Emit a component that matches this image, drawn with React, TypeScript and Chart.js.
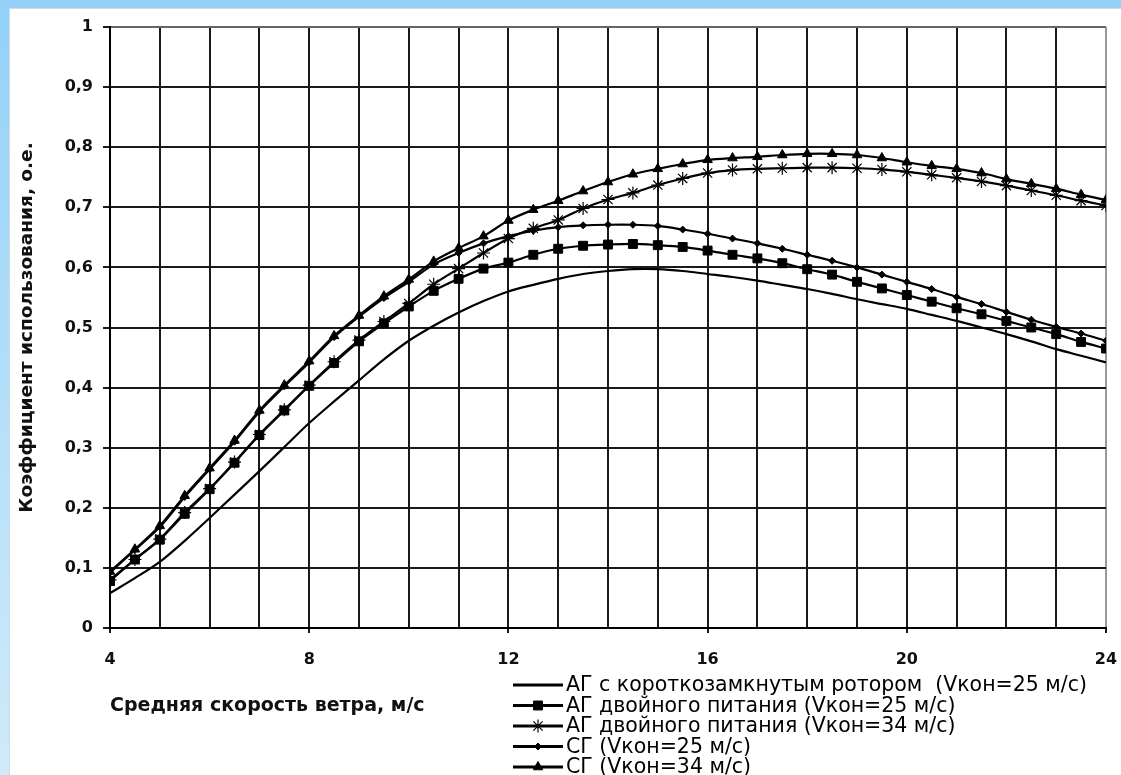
import { useEffect, useRef } from 'react';
import { Chart, registerables } from 'chart.js';
import { drawPoint } from 'chart.js/helpers';

Chart.register(...registerables);

// Wind speed, m/s
const WIND = [4, 4.5, 5, 5.5, 6, 6.5, 7, 7.5, 8, 8.5, 9, 9.5, 10, 10.5, 11, 11.5, 12, 12.5, 13, 13.5, 14, 14.5, 15, 15.5, 16, 16.5, 17, 17.5, 18, 18.5, 19, 19.5, 20, 20.5, 21, 21.5, 22, 22.5, 23, 23.5, 24];

const AG_SC_25 = [0.058, 0.083, 0.110, 0.145, 0.183, 0.222, 0.261, 0.301, 0.341, 0.377, 0.412, 0.447, 0.478, 0.503, 0.525, 0.544, 0.560, 0.571, 0.581, 0.589, 0.594, 0.597, 0.597, 0.594, 0.589, 0.584, 0.578, 0.571, 0.564, 0.556, 0.547, 0.539, 0.531, 0.521, 0.511, 0.500, 0.489, 0.477, 0.464, 0.453, 0.442];
const AG_DF_25 = [0.078, 0.114, 0.147, 0.190, 0.231, 0.275, 0.321, 0.362, 0.403, 0.441, 0.477, 0.507, 0.535, 0.561, 0.581, 0.598, 0.608, 0.621, 0.631, 0.636, 0.638, 0.639, 0.637, 0.634, 0.628, 0.621, 0.615, 0.607, 0.597, 0.588, 0.576, 0.565, 0.554, 0.543, 0.532, 0.522, 0.511, 0.500, 0.489, 0.476, 0.465];
const AG_DF_34 = [0.080, 0.114, 0.148, 0.192, 0.232, 0.276, 0.322, 0.363, 0.404, 0.443, 0.479, 0.510, 0.540, 0.572, 0.598, 0.624, 0.648, 0.665, 0.679, 0.698, 0.713, 0.724, 0.737, 0.748, 0.757, 0.762, 0.764, 0.765, 0.766, 0.766, 0.765, 0.763, 0.759, 0.754, 0.749, 0.743, 0.736, 0.728, 0.720, 0.711, 0.703];
const SG_25 = [0.092, 0.130, 0.168, 0.218, 0.264, 0.310, 0.360, 0.402, 0.442, 0.484, 0.518, 0.549, 0.576, 0.605, 0.624, 0.640, 0.652, 0.661, 0.667, 0.670, 0.671, 0.671, 0.669, 0.663, 0.656, 0.648, 0.640, 0.631, 0.621, 0.611, 0.600, 0.588, 0.576, 0.564, 0.551, 0.539, 0.526, 0.513, 0.501, 0.490, 0.478];
const SG_34 = [0.094, 0.131, 0.170, 0.220, 0.266, 0.312, 0.362, 0.404, 0.444, 0.486, 0.520, 0.552, 0.580, 0.610, 0.632, 0.652, 0.678, 0.696, 0.711, 0.727, 0.742, 0.755, 0.764, 0.772, 0.779, 0.782, 0.784, 0.787, 0.789, 0.789, 0.787, 0.782, 0.775, 0.769, 0.764, 0.757, 0.747, 0.739, 0.731, 0.721, 0.712];

const SERIES_LABELS = [
  'АГ с короткозамкнутым ротором  (Vкон=25 м/с)',
  'АГ двойного питания (Vкон=25 м/с)',
  'АГ двойного питания (Vкон=34 м/с)',
  'СГ (Vкон=25 м/с)',
  'СГ (Vкон=34 м/с)',
];

const X_TICK_LABELS = [4, 8, 12, 16, 20, 24];
const X_TITLE = 'Средняя скорость ветра, м/с';
const Y_TITLE = 'Коэффициент использования, о.е.';

const toPts = (ys: number[]) => WIND.map((x, i) => ({ x, y: ys[i] }));

const legendPlugin = {
  id: 'customLegend',
  afterDraw(chart: any) {
    const ctx = chart.ctx as CanvasRenderingContext2D;
    const startY = 685;
    const step = 20.5;
    ctx.save();
    chart.data.datasets.forEach((ds: any, i: number) => {
      const y = startY + i * step;
      ctx.strokeStyle = '#000';
      ctx.fillStyle = '#000';
      ctx.lineWidth = 3;
      ctx.beginPath();
      ctx.moveTo(513, y);
      ctx.lineTo(563, y);
      ctx.stroke();
      if (ds.pointRadius > 0) {
        ctx.lineWidth = ds.pointBorderWidth || 1;
        drawPoint(ctx, { pointStyle: ds.pointStyle, radius: ds.pointRadius, borderWidth: ds.pointBorderWidth || 1, rotation: 0 } as any, 538, y);
      }
      ctx.fillStyle = '#000';
      ctx.font = '20.5px "DejaVu Sans"';
      ctx.textBaseline = 'middle';
      ctx.textAlign = 'left';
      ctx.fillText(ds.label, 566, y + 1);
    });
    ctx.restore();
  },
};

export default function App() {
  const ref = useRef<HTMLCanvasElement | null>(null);

  useEffect(() => {
    if (!ref.current) return;
    const common = {
      borderColor: '#000',
      backgroundColor: '#000',
      pointBorderColor: '#000',
      pointBackgroundColor: '#000',
      borderWidth: 2.2,
      tension: 0.3,
      fill: false,
    };
    const chart = new Chart(ref.current, {
      type: 'line',
      data: {
        datasets: [
          { ...common, label: SERIES_LABELS[0], data: toPts(AG_SC_25), pointRadius: 0, pointStyle: 'circle' },
          { ...common, label: SERIES_LABELS[1], data: toPts(AG_DF_25), pointRadius: 6.3, pointStyle: 'rect', pointBorderWidth: 1 },
          { ...common, label: SERIES_LABELS[2], data: toPts(AG_DF_34), pointRadius: 6.5, pointStyle: 'star', pointBorderWidth: 1.2 },
          { ...common, label: SERIES_LABELS[3], data: toPts(SG_25), pointRadius: 3.5, pointStyle: 'rectRot', pointBorderWidth: 1 },
          { ...common, label: SERIES_LABELS[4], data: toPts(SG_34), pointRadius: 5.5, pointStyle: 'triangle', pointBorderWidth: 1 },
        ] as any,
      },
      options: {
        animation: false,
        responsive: false,
        maintainAspectRatio: false,
        layout: { padding: { left: 10, top: 27, right: 15, bottom: 54 } },
        plugins: { legend: { display: false }, tooltip: { enabled: false } },
        scales: {
          x: {
            type: 'linear',
            min: 4,
            max: 24,
            afterFit(scale: any) {
              scale.height = 93;
              scale.paddingLeft = 0;
              scale.paddingRight = 0;
              scale.paddingTop = 0;
              scale.paddingBottom = 0;
            },
            ticks: {
              stepSize: 1,
              autoSkip: false,
              maxRotation: 0,
              padding: 17,
              color: '#111',
              font: { family: '"DejaVu Sans"', size: 16, weight: 'bold' },
              callback: (v: any) => (X_TICK_LABELS.includes(Number(v)) ? String(v) : ''),
            },
            grid: {
              color: (c: any) => (c.tick && c.tick.value === 24 ? '#9a9a9a' : '#1a1a1a'),
              lineWidth: 2,
              tickLength: 5,
              tickColor: (c: any) => (c.tick && X_TICK_LABELS.includes(c.tick.value) ? '#1a1a1a' : 'rgba(0,0,0,0)'),
            },
            border: { display: true, color: '#000', width: 2 },
            title: {
              display: true,
              text: X_TITLE,
              align: 'start',
              color: '#111',
              padding: { top: 0, bottom: 4 },
              font: { family: '"DejaVu Sans"', size: 19, weight: 'bold' },
            },
          },
          y: {
            type: 'linear',
            min: 0,
            max: 1,
            afterFit(scale: any) {
              scale.width = 100;
              scale.paddingLeft = 0;
              scale.paddingRight = 0;
              scale.paddingTop = 0;
              scale.paddingBottom = 0;
            },
            ticks: {
              stepSize: 0.1,
              padding: 10,
              color: '#111',
              font: { family: '"DejaVu Sans"', size: 16, weight: 'bold' },
              callback: (v: any) => String(Math.round(Number(v) * 10) / 10).replace('.', ','),
            },
            grid: {
              color: (c: any) => (c.tick && Math.abs(c.tick.value - 1) < 1e-6 ? '#666' : '#1a1a1a'),
              lineWidth: 2,
              tickLength: 7,
              tickColor: '#1a1a1a',
            },
            border: { display: true, color: '#000', width: 2 },
            title: {
              display: true,
              text: Y_TITLE,
              color: '#111',
              padding: { top: 6, bottom: 0 },
              font: { family: '"DejaVu Sans"', size: 18.5, weight: 'bold' },
            },
          },
        },
      } as any,
      plugins: [legendPlugin],
    });
    return () => chart.destroy();
  }, []);

  return (
    <div style={{ position: 'fixed', left: 0, top: 0, width: 1121, height: 775, background: 'linear-gradient(180deg, #93d1f8 0%, #b9e1f9 60%, #cfeafa 100%)', overflow: 'hidden' }}>
      <div style={{ position: 'absolute', left: 9, top: 8, right: 0, bottom: 0, background: '#fff', borderLeft: '1px solid #c9dce8', borderTop: '1px solid #c9dce8' }} />
      <canvas ref={ref} width={1121} height={775} style={{ position: 'absolute', left: 0, top: 0, width: 1121, height: 775 }} />
    </div>
  );
}
